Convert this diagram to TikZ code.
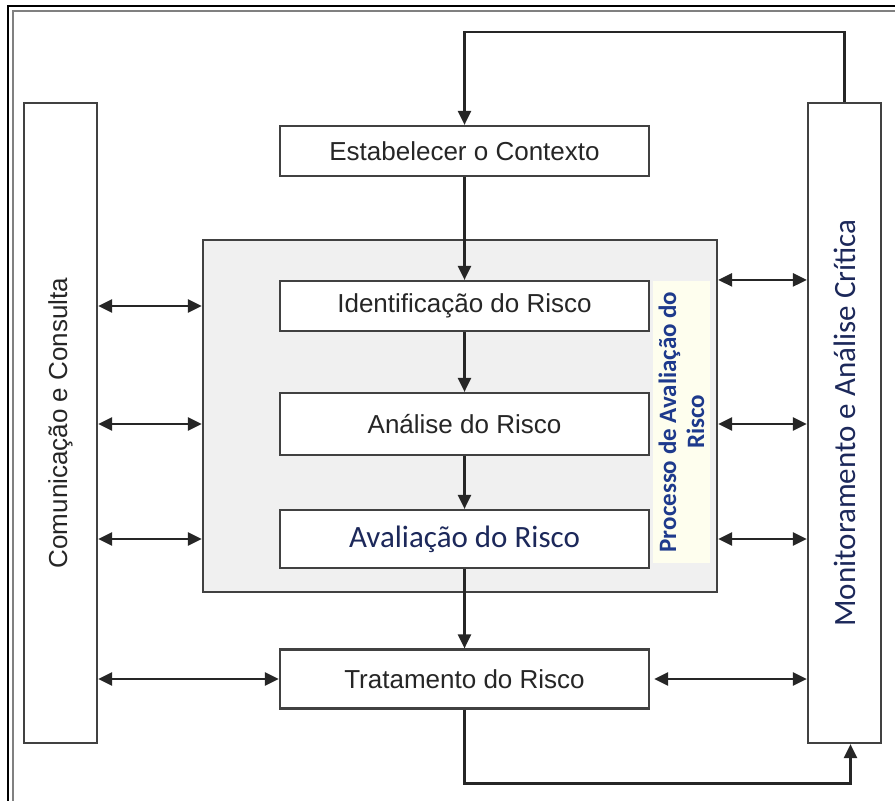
\documentclass[tikz,border=0pt]{standalone}
\usepackage{fontspec}
\setmainfont{Liberation Sans}
\newfontfamily\calib{Carlito}
\usetikzlibrary{arrows.meta,positioning}
\definecolor{linegray}{RGB}{65,65,65}
\definecolor{procfill}{RGB}{240,240,240}
\definecolor{lblfill}{RGB}{254,254,238}
\definecolor{navy}{RGB}{28,40,90}
\definecolor{lblblue}{RGB}{30,58,140}

\begin{document}
\begin{tikzpicture}[x=1pt,y=1pt,>={Triangle[length=14pt,width=13pt]},line width=2.4pt,
node distance=118pt]
\tikzstyle{box}=[draw=linegray,line width=2.2pt,fill=white,minimum width=369pt,inner sep=0pt,font=\fontsize{26}{30}\selectfont,text=black!85]
\tikzstyle{side}=[draw=linegray,line width=2.2pt,fill=white,minimum width=73pt,minimum height=640pt,inner sep=0pt]
\tikzstyle{link}=[->,draw=black!85,line width=2.4pt]
\tikzstyle{twoway}=[<->,draw=black!85,line width=2.6pt]
\useasboundingbox (0,0) rectangle (895,-801);
\draw[black,line width=1.6pt] (8,-801) |- (895,-6);
\draw[gray,line width=1.6pt] (13,-801) |- (895,-11);
\node[draw=linegray,line width=2.2pt,fill=procfill,minimum width=514pt,minimum height=352pt] (proc) at (460,-416) {};
\node[fill=lblfill,minimum width=57pt,minimum height=282pt,label={[rotate=90,align=center,text=lblblue,font=\calib\bfseries\fontsize{25}{28}\selectfont]center:Processo de Avaliação do\\Risco}] (lbl) at (681.5,-422) {};
\node[box,minimum height=50pt] (est) at (464.5,-151) {Estabelecer o Contexto};
\node[box,minimum height=50pt,below of=est,node distance=155pt] (ide) {Identificação do Risco};
\node[box,minimum height=62pt,below of=ide] (ana) {Análise do Risco};
\node[box,minimum height=58pt,below of=ana,node distance=115pt,font=\calib\fontsize{31}{36}\selectfont,text=navy] (ava) {Avaliação do Risco};
\node[box,minimum height=59pt,below of=ava,node distance=140pt] (tra) {Tratamento do Risco};
\node[side,label={[rotate=90,font=\fontsize{26}{30}\selectfont,text=black!85]center:Comunicação e Consulta}] (com) at (60.5,-423) {};
\node[side,label={[rotate=90,font=\calib\fontsize{31}{36}\selectfont,text=navy]center:Monitoramento e Análise Crítica}] (mon) at (844.5,-423) {};
\draw[link] (mon.north) -- ++(0,70) -| (est.north);
\draw[link] (est) -- (ide);
\draw[link] (ide) -- (ana);
\draw[link] (ana) -- (ava);
\draw[link] (ava) -- (tra);
\draw[link] (tra.south) -- ++(0,-74) -| ([xshift=6pt]mon.south);
\draw[twoway] (com.east |- ide) -- (proc.west |- ide);
\draw[twoway] (com.east |- ana) -- (proc.west |- ana);
\draw[twoway] (com.east |- ava) -- (proc.west |- ava);
\draw[twoway] (proc.east |- ide.north) -- (mon.west |- ide.north);
\draw[twoway] (proc.east |- ana) -- (mon.west |- ana);
\draw[twoway] (proc.east |- ava) -- (mon.west |- ava);
\draw[twoway] (com.east |- tra) -- (tra.west);
\draw[twoway,shorten <=4pt] (tra.east) -- (mon.west |- tra);
\end{tikzpicture}
\end{document}
